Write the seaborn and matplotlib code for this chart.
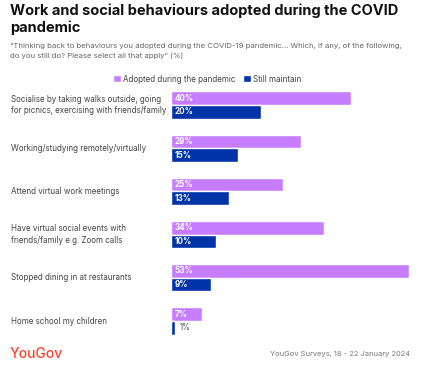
import matplotlib
matplotlib.use("Agg")
import matplotlib.pyplot as plt
import matplotlib.transforms as mtransforms
from matplotlib.patches import Patch
import pandas as pd
import seaborn as sns

behaviours = [
    "Socialise by taking walks outside, going\nfor picnics, exercising with friends/family",
    "Working/studying remotely/virtually",
    "Attend virtual work meetings",
    "Have virtual social events with\nfriends/family e.g. Zoom calls",
    "Stopped dining in at restaurants",
    "Home school my children",
]
adopted = [40, 29, 25, 34, 53, 7]
still_maintain = [20, 15, 13, 10, 9, 1]
series_names = ["Adopted during the pandemic", "Still maintain"]
colors = ["#c77dff", "#0033a8"]

df = pd.DataFrame({
    "behaviour": behaviours * 2,
    "value": adopted + still_maintain,
    "series": [series_names[0]] * len(behaviours) + [series_names[1]] * len(behaviours),
})

sns.set_style("white")
plt.rcParams["font.family"] = ["Inter", "DejaVu Sans"]

fig = plt.figure(figsize=(4.23, 3.65), dpi=100)
ax = fig.add_axes([171 / 423, 1 - 342.6 / 365, (409 - 171) / 423, (342.6 - 83.4) / 365])

sns.barplot(data=df, y="behaviour", x="value", hue="series", orient="h",
            palette=colors, width=0.63, legend=False, ax=ax, saturation=1)
ax.set_xlim(0, 53)
ax.set_ylim(5.5, -0.5)
ax.set_xlabel("")
ax.set_ylabel("")
ax.set_xticks([])
ax.set_yticks([])
for s in ax.spines.values():
    s.set_visible(False)

# value labels
for cont in ax.containers:
    for bar in cont:
        w = bar.get_width()
        yc = bar.get_y() + bar.get_height() / 2
        if w >= 3:
            ax.annotate(f"{w:.0f}%", (0, yc), xytext=(2.5, 0), textcoords="offset points",
                        ha="left", va="center", fontsize=5.8, color="white", fontweight="bold")
        else:
            ax.annotate(f"{w:.0f}%", (w, yc), xytext=(3, 0), textcoords="offset points",
                        ha="left", va="center", fontsize=5.8, color="#555555")

# category labels
trans = mtransforms.blended_transform_factory(fig.transFigure, ax.transData)
for i, lab in enumerate(behaviours):
    ax.text(11 / 423, i, lab, transform=trans, ha="left", va="center",
            fontsize=5.75, color="#444444", linespacing=1.4)

fig.text(10 / 423, 1 - 4 / 365, "Work and social behaviours adopted during the COVID\npandemic",
         ha="left", va="top", fontsize=10.5, fontweight="bold", color="#111111", linespacing=1.15)
fig.text(10 / 423, 1 - 43 / 365,
         "\u201cThinking back to behaviours you adopted during the COVID-19 pandemic... Which, if any, of the following,\n"
         "do you still do? Please select all that apply\u201d (%)",
         ha="left", va="top", fontsize=5.6, color="#666666", linespacing=1.6)

handles = [Patch(facecolor=c) for c in colors]
fig.legend(handles, series_names, loc="center", bbox_to_anchor=(207 / 423, 1 - 79 / 365),
           ncol=2, frameon=False, fontsize=5.8, handlelength=1.0, handleheight=1.0,
           handletextpad=0.3, columnspacing=0.9, labelcolor="#444444")

fig.text(10 / 423, 1 - 354 / 365, "YouGov", ha="left", va="center", fontsize=10,
         color="#ff412c", fontweight="medium")
fig.text(410 / 423, 1 - 354 / 365, "YouGov Surveys, 18 - 22 January 2024", ha="right",
         va="center", fontsize=5.4, color="#777777")

fig.savefig("out.png", dpi=100)
